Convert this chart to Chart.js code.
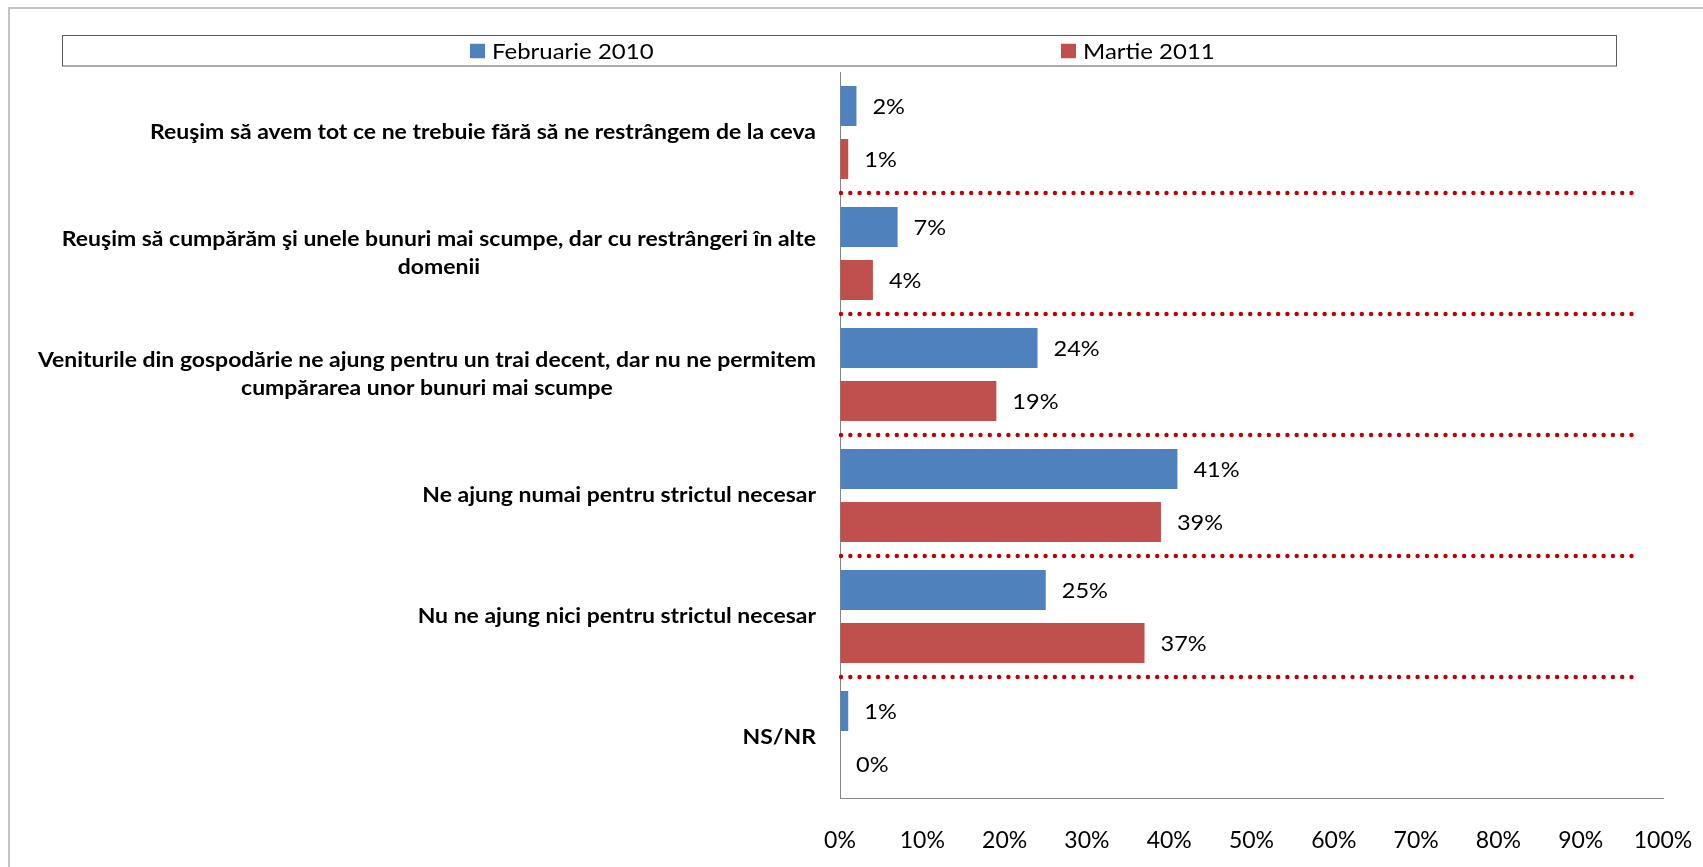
<!DOCTYPE html>
<html>
<head>
<meta charset="utf-8">
<title>Venituri gospodărie</title>
<script src="https://cdn.jsdelivr.net/npm/chart.js"></script>
<style>
  html, body { margin: 0; padding: 0; background: #fff; overflow: hidden; }
  .frame { position: absolute; left: 8px; top: 7px; width: 1760px; height: 920px; border: 2px solid #c4c4c4; }
  .chart-container { position: absolute; left: 0; top: 0; width: 1703px; height: 867px; }
</style>
</head>
<body>
<div class="frame"></div>
<div class="chart-container">
  <canvas id="incomeChart" width="1703" height="867"></canvas>
</div>
<script>
// data
const categories = [
  'Reuşim să avem tot ce ne trebuie fără să ne restrângem de la ceva',
  ['Reuşim să cumpărăm şi unele bunuri mai scumpe, dar cu restrângeri în alte', 'domenii'],
  ['Veniturile din gospodărie ne ajung pentru un trai decent, dar nu ne permitem', 'cumpărarea unor bunuri mai scumpe'],
  'Ne ajung numai pentru strictul necesar',
  'Nu ne ajung nici pentru strictul necesar',
  'NS/NR'
];
const seriesNames = ['Februarie 2010', 'Martie 2011'];
const feb2010 = [2, 7, 24, 41, 25, 1];
const mar2011 = [1, 4, 19, 39, 37, 0];
const tickValues = [0, 10, 20, 30, 40, 50, 60, 70, 80, 90, 100];

const colors = ['#4F81BD', '#C0504D'];
const FONT = 'Lato';

// the original text is a bit wider than Lato, so stretch it horizontally
const stretchText = (ctx, text, x, y, sx) => {
  ctx.save();
  ctx.translate(x, y);
  ctx.scale(sx, 1);
  ctx.fillText(text, 0, 0);
  ctx.restore();
};

// legend in a bordered box, like the Excel original
const legendBox = {
  id: 'legendBox',
  afterDraw(chart) {
    const ctx = chart.ctx;
    const box = { left: 62, top: 35.5, width: 1554, height: 30.5 };
    const itemX = [470, 1061];
    ctx.save();
    ctx.strokeStyle = '#595959';
    ctx.lineWidth = 1;
    ctx.strokeRect(box.left + 0.5, box.top, box.width, box.height);
    ctx.font = '22px ' + FONT;
    ctx.textBaseline = 'middle';
    ctx.textAlign = 'left';
    const cy = box.top + box.height / 2;
    chart.data.datasets.forEach((ds, i) => {
      ctx.fillStyle = ds.backgroundColor;
      ctx.fillRect(itemX[i], cy - 7, 15, 14.5);
      ctx.fillStyle = '#000';
      stretchText(ctx, ds.label, itemX[i] + 22, cy + 1, 1.09);
    });
    ctx.restore();
  }
};

// red dotted separators between categories
const separators = {
  id: 'separators',
  afterDatasetsDraw(chart) {
    const { ctx, scales: { x, y } } = chart;
    const xEnd = x.getPixelForValue(96.6);
    ctx.save();
    ctx.fillStyle = '#C00000';
    for (let i = 0; i < categories.length - 1; i++) {
      const yy = (y.getPixelForTick(i) + y.getPixelForTick(i + 1)) / 2;
      for (let xx = x.left + 1; xx <= xEnd; xx += 9.3) {
        ctx.beginPath();
        ctx.arc(xx, yy, 2.2, 0, Math.PI * 2);
        ctx.fill();
      }
    }
    ctx.restore();
  }
};

// percentage labels at the end of each bar
const valueLabels = {
  id: 'valueLabels',
  afterDatasetsDraw(chart) {
    const ctx = chart.ctx;
    ctx.save();
    ctx.font = '22px ' + FONT;
    ctx.fillStyle = '#000';
    ctx.textAlign = 'left';
    ctx.textBaseline = 'middle';
    chart.data.datasets.forEach((ds, di) => {
      chart.getDatasetMeta(di).data.forEach((bar, i) => {
        stretchText(ctx, ds.data[i] + '%', bar.x + 16, bar.y + 1, 1.07);
      });
    });
    ctx.restore();
  }
};

// category labels: right aligned block, lines centred on each other
const categoryLabels = {
  id: 'categoryLabels',
  afterDraw(chart) {
    const { ctx, scales: { y } } = chart;
    const lineHeight = 28.5;
    const sx = 1.12;
    const right = chart.chartArea.left - 24;
    ctx.save();
    ctx.font = 'bold 20.5px ' + FONT;
    ctx.fillStyle = '#000';
    ctx.textAlign = 'center';
    ctx.textBaseline = 'middle';
    categories.forEach((label, i) => {
      const lines = Array.isArray(label) ? label : [label];
      const widest = Math.max(...lines.map(l => ctx.measureText(l).width)) * sx;
      const cx = right - widest / 2;
      const cy = y.getPixelForTick(i);
      lines.forEach((line, j) => {
        stretchText(ctx, line, cx, cy + (j - (lines.length - 1) / 2) * lineHeight, sx);
      });
    });
    ctx.restore();
  }
};

const createBarChart = () => {
  const ctx = document.getElementById('incomeChart').getContext('2d');
  new Chart(ctx, {
    type: 'bar',
    data: {
      labels: categories,
      datasets: [
        { label: seriesNames[0], data: feb2010, backgroundColor: colors[0], borderWidth: 0 },
        { label: seriesNames[1], data: mar2011, backgroundColor: colors[1], borderWidth: 0 }
      ]
    },
    options: {
      indexAxis: 'y',
      responsive: false,
      animation: false,
      categoryPercentage: 0.876,
      barPercentage: 0.755,
      layout: { padding: { top: 72, right: 40, bottom: 0, left: 0 } },
      plugins: {
        legend: { display: false },
        tooltip: { enabled: false }
      },
      scales: {
        x: {
          min: 0,
          max: 100,
          afterBuildTicks: scale => { scale.ticks = tickValues.map(v => ({ value: v })); },
          afterFit: scale => { scale.height = 69; },
          // invisible tick marks push the labels down without widening the side padding
          grid: { display: true, drawOnChartArea: false, color: 'transparent', drawTicks: true, tickLength: 26 },
          border: { display: true, color: '#868686', width: 1 },
          ticks: {
            padding: 3,
            color: '#000',
            font: { family: FONT, size: 23 },
            callback: v => v + '%'
          }
        },
        y: {
          afterFit: scale => { scale.width = 840; },
          grid: { display: false },
          border: { display: true, color: '#868686', width: 1 },
          ticks: { display: false }
        }
      }
    },
    plugins: [separators, valueLabels, categoryLabels, legendBox]
  });
};

document.fonts.load('20px Lato').then(() => document.fonts.load('bold 20px Lato')).then(createBarChart, createBarChart);
</script>
</body>
</html>
